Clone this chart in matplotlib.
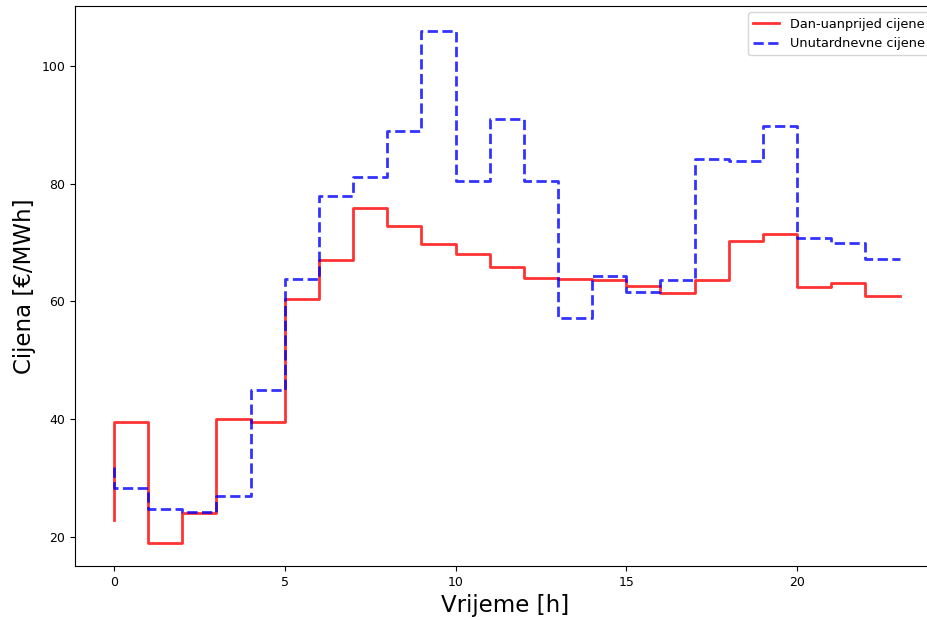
import matplotlib
matplotlib.use("Agg")
import matplotlib.pyplot as plt

hours = list(range(24))
day_ahead = [22.9, 39.6, 19.0, 24.0, 40.0, 39.6, 60.5, 67.0, 75.8, 72.8, 69.7, 68.0,
             65.8, 64.0, 63.8, 63.6, 62.7, 61.4, 63.6, 70.2, 71.5, 62.4, 63.1, 61.0]
intraday = [31.9, 28.3, 24.8, 24.3, 27.0, 45.0, 63.8, 78.0, 81.2, 89.0, 106.0, 80.5,
            91.0, 80.5, 57.2, 64.3, 61.6, 63.6, 84.2, 83.8, 89.8, 70.8, 70.0, 67.3]

fig = plt.figure(figsize=(9.28, 6.2), dpi=100)
# the original picture is cropped on the right, so the axes run past the edge
ax = fig.add_axes([0.0808, 0.0871, 0.928, 0.9032])

ax.step(hours, day_ahead, where="pre", color="r", alpha=0.8, lw=2,
        label="Dan-uanprijed cijene")
ax.step(hours, intraday, where="pre", color="b", alpha=0.8, lw=2, ls="--",
        label="Unutardnevne cijene")

ax.set_xlim(-1.14, 24.07)
ax.set_ylim(15.07, 110.19)
ax.set_xlabel("Vrijeme [h]", fontsize=16.5)
ax.set_ylabel("Cijena [€/MWh]", fontsize=16.5)
ax.set_yticks([20, 40, 60, 80, 100])
ax.set_xticks([0, 5, 10, 15, 20])
ax.tick_params(labelsize=9)
ax.legend(loc="upper right", fontsize=9.3)

fig.savefig("out.png", dpi=100)
